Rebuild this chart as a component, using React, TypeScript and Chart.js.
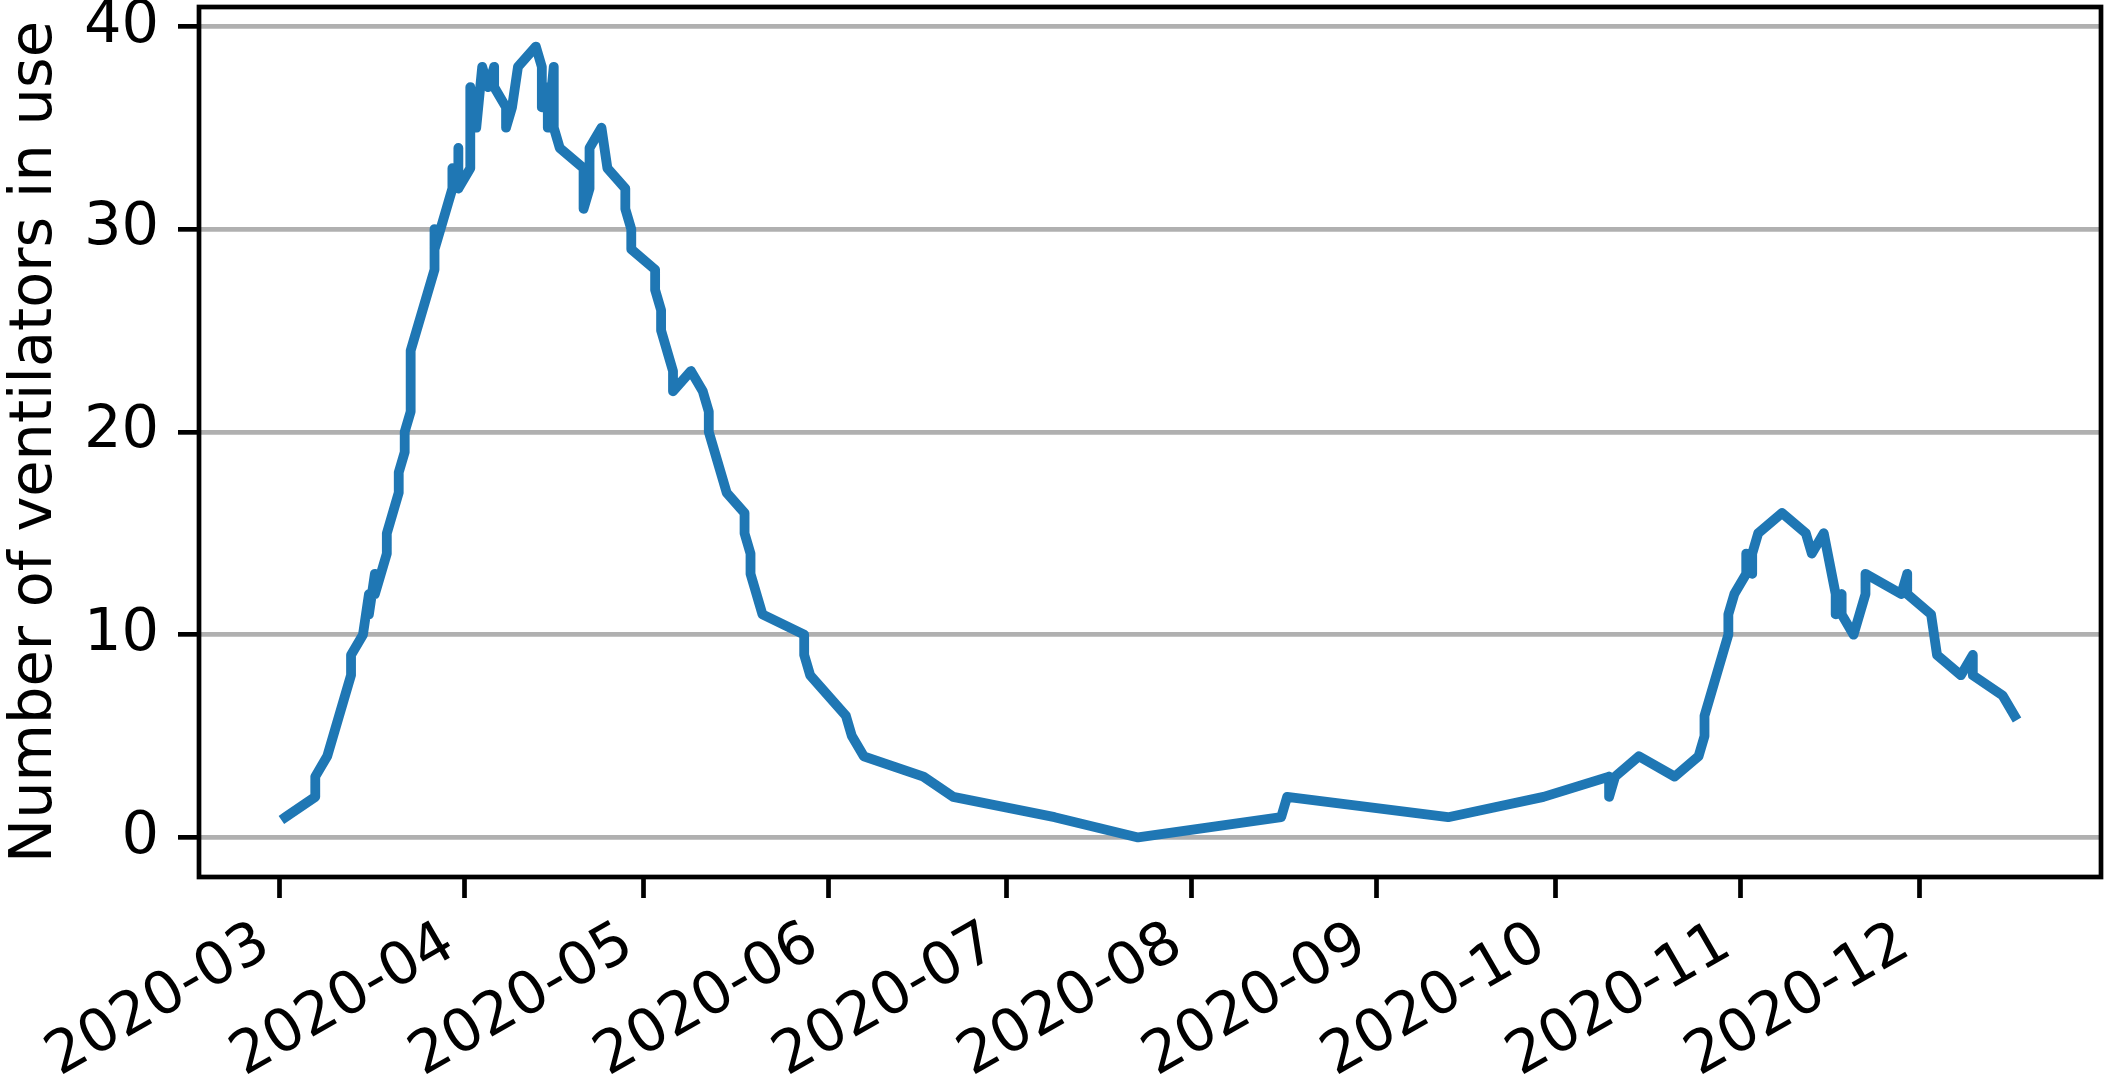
import React, { useEffect, useRef } from "react";
import { Chart, registerables } from "chart.js";

Chart.register(...registerables);

const dates: string[] = [
  "2020-03-02", "2020-03-07", "2020-03-07", "2020-03-09", "2020-03-13", "2020-03-13",
  "2020-03-15", "2020-03-16", "2020-03-16", "2020-03-17", "2020-03-17", "2020-03-18",
  "2020-03-19", "2020-03-19", "2020-03-21", "2020-03-21", "2020-03-22", "2020-03-22",
  "2020-03-23", "2020-03-23", "2020-03-27", "2020-03-27", "2020-03-27", "2020-03-29",
  "2020-03-30", "2020-03-30", "2020-03-31", "2020-03-31", "2020-03-31", "2020-04-02",
  "2020-04-02", "2020-04-03", "2020-04-04", "2020-04-05", "2020-04-06", "2020-04-06",
  "2020-04-08", "2020-04-08", "2020-04-09", "2020-04-10", "2020-04-13", "2020-04-14",
  "2020-04-14", "2020-04-15", "2020-04-15", "2020-04-16", "2020-04-16", "2020-04-17",
  "2020-04-21", "2020-04-21", "2020-04-22", "2020-04-22", "2020-04-24", "2020-04-25",
  "2020-04-28", "2020-04-28", "2020-04-29", "2020-04-29", "2020-05-03", "2020-05-03",
  "2020-05-04", "2020-05-04", "2020-05-06", "2020-05-06", "2020-05-09", "2020-05-11",
  "2020-05-12", "2020-05-12", "2020-05-13", "2020-05-14", "2020-05-15", "2020-05-18",
  "2020-05-18", "2020-05-19", "2020-05-19", "2020-05-21", "2020-05-28", "2020-05-28",
  "2020-05-29", "2020-06-04", "2020-06-05", "2020-06-07", "2020-06-17", "2020-06-22",
  "2020-07-09", "2020-07-23", "2020-08-16", "2020-08-17", "2020-09-13", "2020-09-29",
  "2020-10-10", "2020-10-10", "2020-10-11", "2020-10-15", "2020-10-21", "2020-10-25",
  "2020-10-26", "2020-10-26", "2020-10-30", "2020-10-30", "2020-10-31", "2020-11-02",
  "2020-11-02", "2020-11-03", "2020-11-03", "2020-11-04", "2020-11-08", "2020-11-12",
  "2020-11-13", "2020-11-15", "2020-11-17", "2020-11-17", "2020-11-18", "2020-11-18",
  "2020-11-20", "2020-11-22", "2020-11-22", "2020-11-28", "2020-11-29", "2020-11-29",
  "2020-12-03", "2020-12-04", "2020-12-08", "2020-12-10", "2020-12-10", "2020-12-15",
  "2020-12-17",
];

const ventilators: number[] = [
  1, 2, 3, 4, 8, 9,
  10, 12, 11, 13, 12, 13,
  14, 15, 17, 18, 19, 20,
  21, 24, 28, 30, 29, 31,
  32, 33, 32, 34, 32, 33,
  37, 35, 38, 37, 38, 37,
  36, 35, 36, 38, 39, 38,
  36, 37, 35, 38, 35, 34,
  33, 31, 32, 34, 35, 33,
  32, 31, 30, 29, 28, 27,
  26, 25, 23, 22, 23, 22,
  21, 20, 19, 18, 17, 16,
  15, 14, 13, 11, 10, 9,
  8, 6, 5, 4, 3, 2,
  1, 0, 1, 2, 1, 2,
  3, 2, 3, 4, 3, 4,
  5, 6, 10, 11, 12, 13,
  14, 13, 14, 15, 16, 15,
  14, 15, 12, 11, 12, 11,
  10, 12, 13, 12, 13, 12,
  11, 9, 8, 9, 8, 7,
  6,
];

const monthTicks: string[] = [
  "2020-03", "2020-04", "2020-05", "2020-06", "2020-07",
  "2020-08", "2020-09", "2020-10", "2020-11", "2020-12",
];

const yTicks: number[] = [0, 10, 20, 30, 40];

const yAxisLabel = "Number of ventilators in use";

const DAY_MS = 86400000;
const BASE = Date.UTC(2020, 2, 1);
const toDay = (s: string): number => {
  const [y, m, d] = s.split("-").map(Number);
  return (Date.UTC(y, m - 1, d || 1) - BASE) / DAY_MS;
};

const FONT = "'DejaVu Sans', 'Liberation Sans', sans-serif";
const FS = 59;
const LW = 4.7;

const spinePlugin = {
  id: "spines",
  afterDraw(chart: any) {
    const { ctx, chartArea: a } = chart;
    ctx.save();
    ctx.strokeStyle = "#000000";
    ctx.lineWidth = LW;
    ctx.lineJoin = "miter";
    ctx.strokeRect(a.left, a.top, a.right - a.left, a.bottom - a.top);
    ctx.restore();
  },
};

export default function App() {
  const ref = useRef<HTMLCanvasElement | null>(null);

  useEffect(() => {
    document.body.style.margin = "0";
    const canvas = ref.current;
    if (!canvas) return;

    const xs = dates.map(toDay);
    const xMin0 = Math.min(...xs);
    const xMax0 = Math.max(...xs);
    const xr = xMax0 - xMin0;
    const yMin0 = Math.min(...ventilators);
    const yMax0 = Math.max(...ventilators);
    const yr = yMax0 - yMin0;

    const labelByDay = new Map<number, string>();
    monthTicks.forEach((m) => labelByDay.set(toDay(m + "-01"), m));

    const chart = new Chart(canvas, {
      type: "line",
      data: {
        datasets: [
          {
            data: xs.map((x, i) => ({ x, y: ventilators[i] })),
            borderColor: "#1f77b4",
            backgroundColor: "#1f77b4",
            borderWidth: 9.8,
            pointRadius: 0,
            pointHoverRadius: 0,
            tension: 0,
            fill: false,
            borderJoinStyle: "round",
            borderCapStyle: "square",
          },
        ],
      },
      options: {
        responsive: false,
        animation: false,
        devicePixelRatio: 1,
        layout: { padding: { left: 0, top: 7, right: 4, bottom: 0 } },
        plugins: {
          legend: { display: false },
          tooltip: { enabled: false },
        },
        events: [],
        scales: {
          x: {
            type: "linear",
            min: xMin0 - 0.05 * xr,
            max: xMax0 + 0.05 * xr,
            afterBuildTicks: (s: any) => {
              s.ticks = monthTicks.map((m) => ({ value: toDay(m + "-01") }));
            },
            afterFit: (s: any) => {
              s.height = 1081 - 877;
              s.paddingLeft = 0;
              s.paddingRight = 0;
            },
            grid: {
              drawOnChartArea: false,
              drawTicks: true,
              tickLength: 21,
              tickWidth: LW,
              tickColor: "#000000",
            },
            border: { display: false },
            ticks: {
              color: "#000000",
              font: { family: FONT, size: FS },
              minRotation: 30,
              maxRotation: 30,
              padding: 11,
              labelOffset: -14,
              autoSkip: false,
              callback: (v: any) => labelByDay.get(Number(v)) ?? "",
            },
          },
          y: {
            type: "linear",
            min: yMin0 - 0.05 * yr,
            max: yMax0 + 0.05 * yr,
            afterBuildTicks: (s: any) => {
              s.ticks = yTicks.map((v) => ({ value: v }));
            },
            afterFit: (s: any) => {
              s.width = 199;
              s.paddingTop = 0;
              s.paddingBottom = 0;
            },
            grid: {
              color: "#b0b0b0",
              lineWidth: LW,
              drawTicks: true,
              tickLength: 21,
              tickWidth: LW,
              tickColor: "#000000",
            },
            border: { display: false },
            ticks: {
              color: "#000000",
              font: { family: FONT, size: FS },
              padding: 19,
              callback: (v: any) => String(v),
            },
            title: {
              display: true,
              text: yAxisLabel,
              color: "#000000",
              font: { family: FONT, size: FS },
              padding: { top: 0, bottom: 0 },
            },
          },
        },
      },
      plugins: [spinePlugin],
    } as any);

    return () => chart.destroy();
  }, []);

  return (
    <div style={{ width: 2105, height: 1081, background: "#ffffff" }}>
      <canvas ref={ref} width={2105} height={1081} style={{ display: "block" }} />
    </div>
  );
}
